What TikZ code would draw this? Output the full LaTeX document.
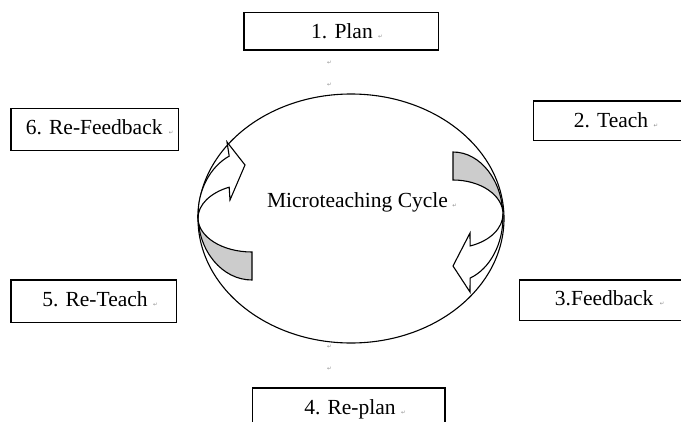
\documentclass[tikz,border=0pt]{standalone}
\usepackage{fontspec}
\setmainfont{Liberation Serif}
\newfontfamily\markfont{DejaVu Sans}
\usetikzlibrary{shapes.geometric}
\begin{document}
\begin{tikzpicture}[x=1pt,y=-1pt,
  stagebox/.style={draw=black, line width=1.3pt, rectangle, inner sep=0pt, outer sep=0pt},
  lbl/.style={font=\fontsize{21.5}{25}\selectfont, inner sep=0pt, anchor=base},
  pmark/.style={font=\markfont\fontsize{5.5}{6}\selectfont, text=black!45, inner sep=0pt, anchor=base west},
  band/.style={draw=black, line width=1.1pt, line join=miter, fill=black!20},
  front/.style={draw=black, line width=1.1pt, line join=miter, fill=white}
]
\useasboundingbox (0,0) rectangle (681,421);
\clip (0,0) rectangle (681,421);

% central cycle
\node[draw=black, line width=1.1pt, ellipse, inner sep=0pt,
      minimum width=306pt, minimum height=249pt] (cycle) at (351,218.5) {};

% right curved arrow (Teach -> Feedback)
\path[band] (453,152) arc[start angle=-90, end angle=0, x radius=50, y radius=65]
  -- (503,214) arc[start angle=0, end angle=-90, x radius=50, y radius=34] -- cycle;
\path[front] (503,214) arc[start angle=0, end angle=70, x radius=50, y radius=34]
  -- (470,233) -- (453,266) -- (470,292) -- (470.1,278.1)
  arc[start angle=70, end angle=0, x radius=50, y radius=65] -- cycle;

% left curved arrow (Re-Teach -> Re-Feedback)
\path[band] (252,280) arc[start angle=90, end angle=180, x radius=54, y radius=65]
  -- (198,218) arc[start angle=180, end angle=90, x radius=54, y radius=34] -- cycle;
\path[front] (198,218) arc[start angle=180, end angle=245, x radius=54, y radius=34]
  -- (230,200) -- (245,165) -- (227,142) -- (229.2,156.1)
  arc[start angle=245, end angle=180, x radius=54, y radius=65] -- cycle;

% stage boxes
\node[stagebox, minimum width=194.3pt, minimum height=37.7pt] (plan)    at (341.2,31.2) {};
\node[stagebox, minimum width=155pt,   minimum height=39.7pt] (teach)   at (610.8,120.9) {};
\node[stagebox, minimum width=169.7pt, minimum height=40.7pt] (feedb)   at (604.2,300.3) {};
\node[stagebox, minimum width=192.3pt, minimum height=40pt]   (replan)  at (348.9,408) {};
\node[stagebox, minimum width=165.7pt, minimum height=42.7pt] (reteach) at (93.9,301.3) {};
\node[stagebox, minimum width=167.3pt, minimum height=42.4pt] (refeed)  at (94.7,129.5) {};

% labels
\node[lbl] (tplan)    at (342,38.5)   {1. Plan};
\node[lbl] (tteach)   at (611,127)    {2. Teach};
\node[lbl] (tfeedb)   at (604.2,305.5){3.Feedback};
\node[lbl] (treplan)  at (350,414)    {4. Re-plan};
\node[lbl] (treteach) at (95,306)     {5. Re-Teach};
\node[lbl] (trefeed)  at (94.2,134.5) {6. Re-Feedback};
\node[lbl] (tcycle)   at (357.5,207)  {Microteaching Cycle};

% paragraph marks
\node[pmark] (m1) at ([xshift=5pt]tplan.base east)    {↵};
\node[pmark] (m2) at ([xshift=5pt]tteach.base east)   {↵};
\node[pmark] (m3) at ([xshift=6pt]tfeedb.base east)   {↵};
\node[pmark] (m4) at ([xshift=5pt]treplan.base east)  {↵};
\node[pmark] (m5) at ([xshift=5pt]treteach.base east) {↵};
\node[pmark] (m6) at ([xshift=6pt]trefeed.base east)  {↵};
\node[pmark] (m7) at ([xshift=4pt]tcycle.base east)   {↵};
\node[pmark] (m8)  at (327,64)  {↵};
\node[pmark] (m9)  at (327,86)  {↵};
\node[pmark] (m10) at (327,348) {↵};
\node[pmark] (m11) at (327,370) {↵};
\end{tikzpicture}
\end{document}
